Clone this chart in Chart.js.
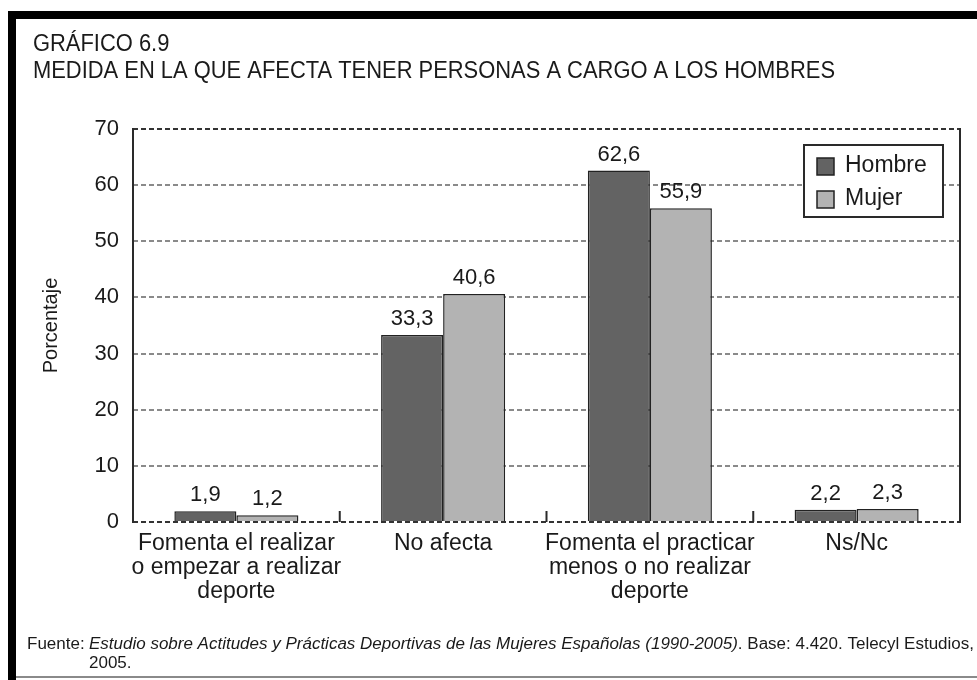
<!DOCTYPE html>
<html>
<head>
<meta charset="utf-8">
<script src="https://cdn.jsdelivr.net/npm/chart.js@4"></script>
<style>
  body { margin: 0; background: #fff; }
  #wrap { position: relative; width: 977px; height: 680px; }
</style>
</head>
<body>
<div id="wrap"><canvas id="graf"></canvas></div>
<script>
// datos del grafico
var categorias = [
  ['Fomenta el realizar', 'o empezar a realizar', 'deporte'],
  'No afecta',
  ['Fomenta el practicar', 'menos o no realizar', 'deporte'],
  'Ns/Nc'
];
var hombre = [1.9, 33.3, 62.6, 2.2];
var mujer = [1.2, 40.6, 55.9, 2.3];
var series = ['Hombre', 'Mujer'];
var yTicks = [0, 10, 20, 30, 40, 50, 60, 70];

var titulo1 = 'GRÁFICO 6.9';
var titulo2 = 'MEDIDA EN LA QUE AFECTA TENER PERSONAS A CARGO A LOS HOMBRES';
var fuente = [
  ['Fuente:  ', false],
  ['Estudio sobre Actitudes y Prácticas Deportivas de las Mujeres Españolas (1990-2005)', true],
  ['. Base: 4.420. Telecyl Estudios,', false]
];
var fuente2 = '2005.';

var FAM = "'Liberation Sans', Arial, Helvetica, sans-serif";

//////////////////////////// marco, titulos, leyenda, etiquetas ////////////////////////////

var marco = {
  id: 'marco',
  beforeDraw: function(chart) {
    var ctx = chart.ctx;
    ctx.save();
    ctx.fillStyle = '#fff';
    ctx.fillRect(0, 0, chart.width, chart.height);
    ctx.fillStyle = '#000';
    ctx.fillRect(8, 11, chart.width - 8, 8);
    ctx.fillRect(8, 11, 8, chart.height - 11);
    ctx.fillStyle = '#8a8a8a';
    ctx.fillRect(16, 676, chart.width - 16, 2);

    // titulo (un poco estrecho como el original)
    ctx.fillStyle = '#1a1a1a';
    ctx.textBaseline = 'middle';
    ctx.font = '23px ' + FAM;
    var kt = 802 / ctx.measureText(titulo2).width;
    ctx.save();
    ctx.translate(33, 0);
    ctx.scale(kt, 1);
    ctx.fillText(titulo1, 0, 45);
    ctx.fillText(titulo2, 0, 72);
    ctx.restore();

    // fuente
    var total = 0;
    for (var i = 1; i < fuente.length; i++) {
      ctx.font = (fuente[i][1] ? 'italic ' : '') + '16px ' + FAM;
      total += ctx.measureText(fuente[i][0]).width;
    }
    var k = 885 / total;
    ctx.save();
    ctx.translate(27, 645);
    ctx.scale(k, 1);
    ctx.font = '16px ' + FAM;
    ctx.fillText(fuente[0][0], 0, 0);
    ctx.fillText(fuente2, 62 / k, 19);
    var x = 62 / k;
    for (var i = 1; i < fuente.length; i++) {
      ctx.font = (fuente[i][1] ? 'italic ' : '') + '16px ' + FAM;
      ctx.fillText(fuente[i][0], x, 0);
      x += ctx.measureText(fuente[i][0]).width;
    }
    ctx.restore();
    ctx.restore();
  },
  afterDatasetsDraw: function(chart) {
    var ctx = chart.ctx;
    var a = chart.chartArea;
    var xs = chart.scales.x;
    ctx.save();
    // ejes laterales
    ctx.strokeStyle = '#2a2a2a';
    ctx.lineWidth = 2;
    ctx.beginPath();
    ctx.moveTo(a.left, a.top - 1);
    ctx.lineTo(a.left, a.bottom + 1);
    ctx.moveTo(a.right, a.top - 1);
    ctx.lineTo(a.right, a.bottom + 1);
    ctx.stroke();
    // marcas entre categorias
    ctx.beginPath();
    for (var i = 0; i < categorias.length - 1; i++) {
      var bx = (xs.getPixelForTick(i) + xs.getPixelForTick(i + 1)) / 2;
      ctx.moveTo(bx, a.bottom - 11);
      ctx.lineTo(bx, a.bottom);
    }
    ctx.stroke();

    // etiquetas de valor
    ctx.fillStyle = '#1a1a1a';
    ctx.font = '22px ' + FAM;
    ctx.textAlign = 'center';
    ctx.textBaseline = 'alphabetic';
    chart.data.datasets.forEach(function(ds, di) {
      chart.getDatasetMeta(di).data.forEach(function(bar, j) {
        ctx.fillText(String(ds.data[j]).replace('.', ','), bar.x, bar.y - 10);
      });
    });

    // leyenda
    var lx = 804, ly = 145, lw = 139, lh = 72;
    ctx.fillStyle = '#fff';
    ctx.fillRect(lx, ly, lw, lh);
    ctx.strokeStyle = '#2a2a2a';
    ctx.lineWidth = 2;
    ctx.strokeRect(lx, ly, lw, lh);
    ctx.textAlign = 'left';
    ctx.textBaseline = 'middle';
    ctx.font = '23px ' + FAM;
    chart.data.datasets.forEach(function(ds, di) {
      var cy = ly + 21 + di * 33;
      ctx.fillStyle = ds.backgroundColor;
      ctx.fillRect(817, cy - 8, 17, 17);
      ctx.lineWidth = 1.5;
      ctx.strokeStyle = '#222';
      ctx.strokeRect(817, cy - 8, 17, 17);
      ctx.fillStyle = '#1a1a1a';
      ctx.fillText(ds.label, 845, cy);
    });
    ctx.restore();
  }
};

////////////////////////////////////// grafico //////////////////////////////////////

var ctx = document.getElementById('graf').getContext('2d');
var myChart = new Chart(ctx, {
  type: 'bar',
  data: {
    labels: categorias,
    datasets: [
      { label: series[0], data: hombre, backgroundColor: '#636363', borderColor: '#222', borderWidth: 1.5 },
      { label: series[1], data: mujer, backgroundColor: '#b3b3b3', borderColor: '#222', borderWidth: 1.5 }
    ]
  },
  options: {
    responsive: true,
    maintainAspectRatio: false,
    animation: false,
    events: [],
    layout: { padding: { top: 129, right: 17, left: 0, bottom: 0 } },
    datasets: { bar: { categoryPercentage: 0.6, barPercentage: 1.0 } },
    plugins: {
      legend: { display: false },
      tooltip: { enabled: false }
    },
    scales: {
      x: {
        afterFit: function(s) { s.height = 158; },
        grid: { display: false, drawTicks: false },
        border: { display: false },
        ticks: {
          color: '#1a1a1a',
          padding: 10,
          maxRotation: 0,
          autoSkip: false,
          font: { family: FAM, size: 23, lineHeight: 1.03 }
        }
      },
      y: {
        min: 0,
        max: 70,
        afterFit: function(s) { s.width = 133; },
        afterBuildTicks: function(s) { s.ticks = yTicks.map(function(v) { return { value: v }; }); },
        border: { display: false, dash: [5, 3] },
        grid: {
          drawTicks: false,
          lineWidth: 2,
          borderDash: [5, 3],
          color: function(c) {
            return (c.tick && (c.tick.value === 0 || c.tick.value === 70)) ? '#333' : '#8a8a8a';
          }
        },
        ticks: {
          color: '#1a1a1a',
          padding: 14,
          font: { family: FAM, size: 22 }
        },
        title: {
          display: true,
          text: 'Porcentaje',
          color: '#1a1a1a',
          padding: { top: 39, bottom: 0 },
          font: { family: FAM, size: 20 }
        }
      }
    }
  },
  plugins: [marco]
});
</script>
</body>
</html>
